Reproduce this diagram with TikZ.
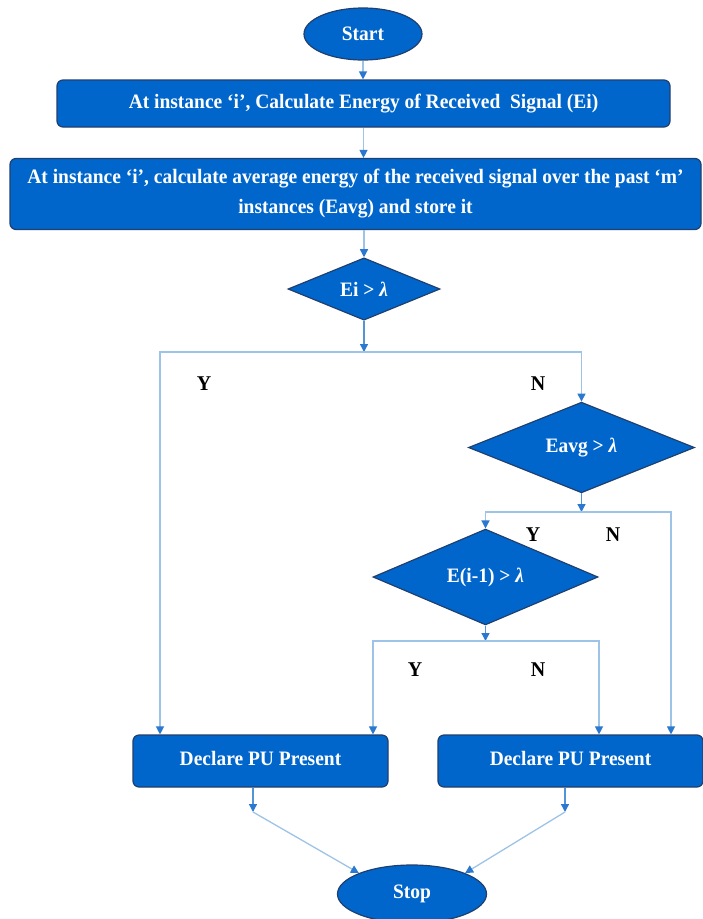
\documentclass[tikz,border=0pt]{standalone}
\usepackage{fontspec}
\setmainfont{Liberation Serif}[FakeStretch=0.95]
\usetikzlibrary{shapes.geometric,arrows.meta}
\definecolor{boxblue}{HTML}{0066CC}
\definecolor{edgeblue}{HTML}{1F3F6F}
\definecolor{wireblue}{HTML}{9DC3E6}
\definecolor{tipblue}{HTML}{2A78D0}

\begin{document}
\begin{tikzpicture}[x=1pt,y=-1pt,
    blk/.style={draw=edgeblue,fill=boxblue,text=white,line width=1.2pt,font=\fontsize{20.5}{30}\selectfont\bfseries},
    box/.style={blk,rectangle,rounded corners=6pt,inner sep=0pt},
    term/.style={blk,ellipse,inner sep=0pt},
    test/.style={blk,diamond,inner sep=0pt},
    wire/.style={draw=wireblue,line width=1.3pt,-{Triangle[color=tipblue,length=8pt,width=8pt]}},
    stub/.style={wire,draw=tipblue!80},
    yn/.style={font=\fontsize{21}{24}\selectfont\bfseries}]
    \useasboundingbox (0,0) rectangle (703,919);
    \draw (363,34) node (S) [term,minimum width=118pt,minimum height=52pt] {Start};
    \draw (363.5,103.5) node (B1) [box,minimum width=613pt,minimum height=47pt] {At instance ‘i’, Calculate Energy of Received\ \ Signal (Ei)};
    \draw (355.5,194) node (B2) [box,minimum width=691pt,minimum height=71pt,align=center] {At instance ‘i’, calculate average energy of the received signal over the past ‘m’\\instances (Eavg) and store it};
    \draw (364,289) node (D1) [test,minimum width=152pt,minimum height=62pt] {Ei > \textit{λ}};
    \draw (581.5,447.5) node (D2) [test,minimum width=226pt,minimum height=77pt] {Eavg > \textit{λ}};
    \draw (485.5,577) node (D3) [test,minimum width=225pt,minimum height=76pt] {E(i-1) > \textit{λ}};
    \draw (260.5,761) node (P1) [box,minimum width=255pt,minimum height=52pt] {\raisebox{6pt}{Declare PU Present}};
    \draw (570.5,761) node (P2) [box,minimum width=265pt,minimum height=52pt] {\raisebox{6pt}{Declare PU Present}};
    \draw (412,894) node (E) [term,minimum width=149pt,minimum height=58pt] {Stop};
    \coordinate (j1) at (364,352);
    \coordinate (y1) at (160,352);
    \coordinate (j2) at (581.5,512);
    \coordinate (n2) at (671,512);
    \coordinate (j3) at (485.5,641);
    \coordinate (y3) at (373,641);
    \coordinate (n3) at (599,641);
    \coordinate (k1) at (253,812);
    \coordinate (k2) at (565,812);
    \draw[wire] (S) -- (S |- B1.north);
    \draw[wire] (B1.south) -- (B1.south |- B2.north);
    \draw[wire] (D1.north |- B2.south) -- (D1);
    \draw[stub] (D1) -- (j1);
    \draw[wire] (j1) -- (y1) -- (y1 |- P1.north);
    \draw[wire] (j1) -| (D2.north);
    \draw[stub] (D2) -- (j2);
    \draw[wire] (j2) -| (D3.north);
    \draw[wire] (j2) -- (n2) -- (n2 |- P2.north);
    \draw[stub] (D3) -- (j3);
    \draw[wire] (j3) -- (y3) -- (y3 |- P1.north);
    \draw[wire] (j3) -- (n3) -- (n3 |- P2.north);
    \draw[stub] (P1.south -| k1) -- (k1);
    \draw[stub] (P2.south -| k2) -- (k2);
    \draw[wire] (k1) -- (E.north west);
    \draw[wire] (k2) -- (E.north east);
    \draw (204,384) node (Y1) [yn] {Y};
    \draw (538,384) node (N1) [yn] {N};
    \draw (533,535) node (Y2) [yn] {Y};
    \draw (613,535) node (N2) [yn] {N};
    \draw (415,670) node (Y3) [yn] {Y};
    \draw (538,670) node (N3) [yn] {N};
\end{tikzpicture}
\end{document}
